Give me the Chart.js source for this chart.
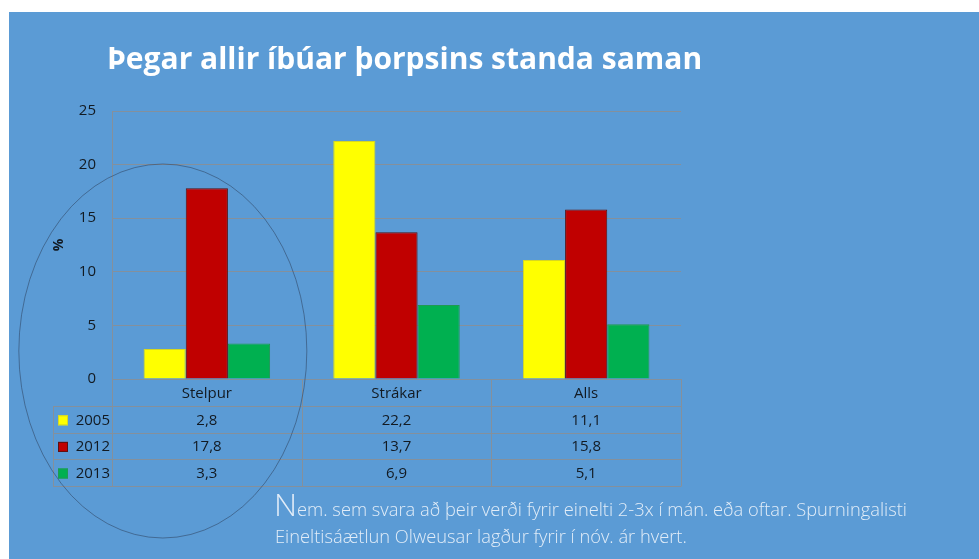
<!DOCTYPE html>
<html>
<head>
<meta charset="utf-8">
<script src="https://cdn.jsdelivr.net/npm/chart.js@4.4.0/dist/chart.umd.min.js"></script>
<style>
  html, body { margin: 0; padding: 0; background: #ffffff; }
  #wrap { width: 979px; height: 559px; }
</style>
</head>
<body>
<div id="wrap"><canvas id="chartEinelti" width="979" height="559"></canvas></div>
<script>
// Gögn
const titill = 'Þegar allir íbúar þorpsins standa saman';
const flokkar = ['Stelpur', 'Strákar', 'Alls'];
const ar = ['2005', '2012', '2013'];
const gildi2005 = [2.8, 22.2, 11.1];
const gildi2012 = [17.8, 13.7, 15.8];
const gildi2013 = [3.3, 6.9, 5.1];
const yMax = 25;
const yStep = 5;
const asTitill = '%';
const skyringStafur = 'N';
const skyring1 = 'em. sem svara að þeir verði fyrir einelti 2-3x í mán. eða oftar. Spurningalisti';
const skyring2 = 'Eineltisáætlun Olweusar lagður fyrir í nóv. ár hvert.';

const litir = ['#FFFF00', '#C00000', '#00B050'];
const rammar = ['#d8d820', '#5a1010', '#1f9a52'];
const linuLitur = '#84909c';
const textaLitur = '#121a22';
const FONT = '"Open Sans", "Noto Sans", sans-serif';

const talning = v => v.toFixed(1).replace('.', ',');

// Bakgrunnur, tafla, hringur og textar
const skyggnaPlugin = {
  id: 'skyggna',
  beforeDraw(chart) {
    const ctx = chart.ctx;
    ctx.save();
    ctx.fillStyle = '#ffffff';
    ctx.fillRect(0, 0, chart.width, chart.height);
    ctx.fillStyle = '#5B9BD5';
    ctx.fillRect(9, 12, chart.width - 9, chart.height - 12);
    ctx.restore();
  },
  afterDraw(chart) {
    const ctx = chart.ctx;
    const area = chart.chartArea;
    const x = chart.scales.x;
    const y = chart.scales.y;
    const dalkur = (area.right - area.left) / flokkar.length;
    const rod = 26.6;
    const haus = 27;
    const topp = y.getPixelForValue(0);
    const vinstri = 53;

    ctx.save();
    ctx.strokeStyle = linuLitur;
    ctx.lineWidth = 1;

    // láréttar línur töflunnar
    ctx.beginPath();
    for (let i = 0; i <= ar.length; i++) {
      const ly = Math.round(topp + haus + i * rod) + 0.5;
      ctx.moveTo(vinstri, ly);
      ctx.lineTo(area.right, ly);
    }
    // lóðréttar línur
    const botn = Math.round(topp + haus + ar.length * rod) + 0.5;
    ctx.moveTo(vinstri + 0.5, Math.round(topp + haus) + 0.5);
    ctx.lineTo(vinstri + 0.5, botn);
    for (let c = 0; c <= flokkar.length; c++) {
      const lx = Math.round(area.left + c * dalkur) + 0.5;
      ctx.moveTo(lx, topp);
      ctx.lineTo(lx, botn);
    }
    ctx.stroke();

    // haus: flokkar
    ctx.fillStyle = textaLitur;
    ctx.font = '500 15px ' + FONT;
    ctx.textAlign = 'center';
    ctx.textBaseline = 'middle';
    flokkar.forEach((f, i) => {
      ctx.fillText(f, x.getPixelForValue(i), topp + haus / 2 + 1);
    });

    // raðir
    chart.data.datasets.forEach((ds, r) => {
      const cy = topp + haus + r * rod + rod / 2 + 1;
      ctx.fillStyle = ds.backgroundColor;
      ctx.fillRect(58, cy - 5, 10, 10);
      ctx.strokeStyle = ds.borderColor;
      ctx.strokeRect(58.5, cy - 4.5, 9, 9);
      ctx.fillStyle = textaLitur;
      ctx.textAlign = 'right';
      ctx.fillText(ds.label, area.left - 2, cy);
      ctx.textAlign = 'center';
      ds.data.forEach((v, i) => {
        ctx.fillText(talning(v), x.getPixelForValue(i), cy);
      });
    });

    // ás-titill
    ctx.save();
    ctx.translate(59, (area.top + area.bottom) / 2);
    ctx.rotate(-Math.PI / 2);
    ctx.font = 'bold 14px ' + FONT;
    ctx.fillText(asTitill, 0, 0);
    ctx.restore();

    // sporbaugur um Stelpur
    ctx.beginPath();
    ctx.ellipse(x.getPixelForValue(0) - 44, topp - 28, 144, 187, 0, 0, Math.PI * 2);
    ctx.strokeStyle = 'rgba(45, 65, 95, 0.55)';
    ctx.lineWidth = 1;
    ctx.stroke();

    // titill
    ctx.fillStyle = '#ffffff';
    ctx.textAlign = 'left';
    ctx.textBaseline = 'alphabetic';
    ctx.font = 'bold 30px ' + FONT;
    ctx.fillText(titill, 107, 69);

    // skýring
    ctx.fillStyle = 'rgba(240, 245, 252, 0.9)';
    ctx.font = '300 32px ' + FONT;
    ctx.fillText(skyringStafur, 274, 516);
    const nBreidd = ctx.measureText(skyringStafur).width;
    ctx.font = '300 18.3px ' + FONT;
    ctx.fillText(skyring1, 274 + nBreidd, 516);
    ctx.fillText(skyring2, 275, 543);
    ctx.restore();
  }
};

new Chart(document.getElementById('chartEinelti'), {
  type: 'bar',
  data: {
    labels: flokkar,
    datasets: [
      { label: ar[0], data: gildi2005, backgroundColor: litir[0], borderColor: rammar[0], borderWidth: 1 },
      { label: ar[1], data: gildi2012, backgroundColor: litir[1], borderColor: rammar[1], borderWidth: 1 },
      { label: ar[2], data: gildi2013, backgroundColor: litir[2], borderColor: rammar[2], borderWidth: 1 }
    ]
  },
  options: {
    responsive: false,
    animation: false,
    devicePixelRatio: 1,
    layout: { padding: { top: 111, right: 298, bottom: 180, left: 0 } },
    datasets: { bar: { categoryPercentage: 0.667, barPercentage: 1 } },
    plugins: {
      legend: { display: false },
      tooltip: { enabled: false },
      title: { display: false }
    },
    scales: {
      x: { display: false },
      y: {
        min: 0,
        max: yMax,
        ticks: {
          stepSize: yStep,
          padding: 16,
          color: textaLitur,
          font: { family: FONT, size: 15, weight: '500' }
        },
        grid: { color: linuLitur, drawTicks: false },
        border: { display: true, color: linuLitur },
        afterFit(axis) { axis.width = 112; }
      }
    }
  },
  plugins: [skyggnaPlugin]
});
</script>
</body>
</html>
